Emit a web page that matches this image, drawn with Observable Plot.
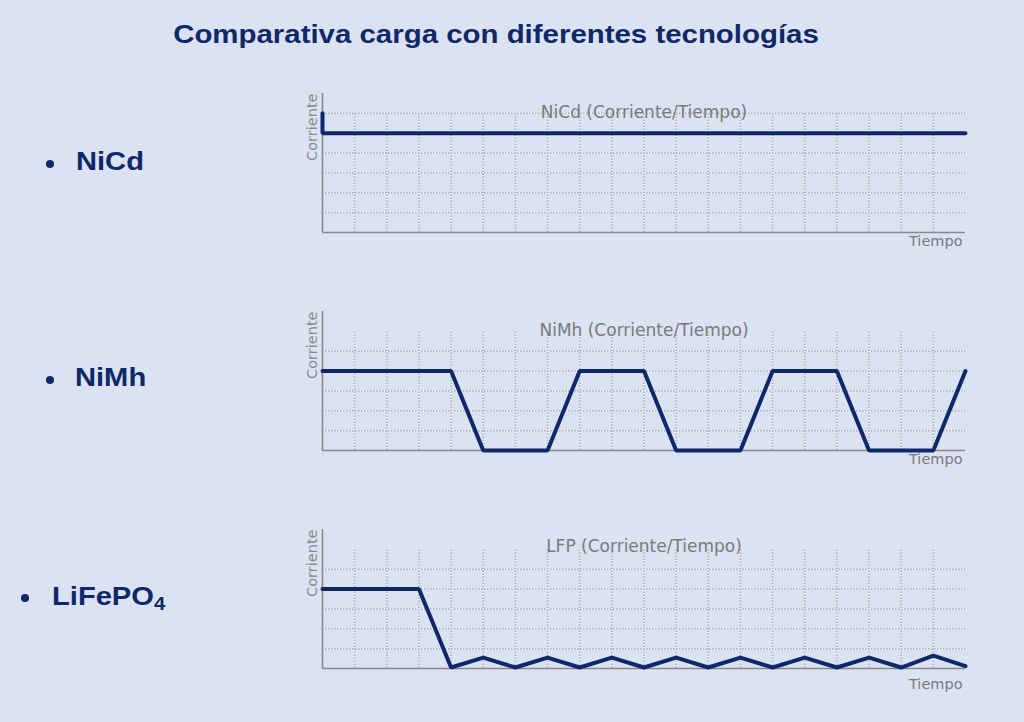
<!DOCTYPE html>
<html>
<head>
<meta charset="utf-8">
<script src="https://cdn.jsdelivr.net/npm/d3@7"></script>
<script src="https://cdn.jsdelivr.net/npm/@observablehq/plot@0.6"></script>
<style>
  html, body { margin: 0; padding: 0; background: #dbe2f2; }
  #page { position: relative; width: 1024px; height: 722px; background: #dbe2f2; overflow: hidden;
          font-family: "Liberation Sans", Arial, sans-serif; }
  .title { position: absolute; left: 0; width: 992px; top: 19px; line-height: 30px; text-align: center;
           font-weight: bold; font-size: 26.5px; color: #0f286a; white-space: nowrap;
           transform: scaleX(1.11); transform-origin: 496px 0; }
  .label { position: absolute; line-height: 30px; font-weight: bold; font-size: 26px; color: #0f286a; white-space: nowrap;
           transform: scaleX(1.12); transform-origin: 0 0; }
  .label sub { font-size: 18px; vertical-align: -5px; line-height: 0; }
  .bullet { position: absolute; width: 8px; height: 8px; border-radius: 50%; background: #0f286a; }
  .chart { position: absolute; left: 290px; }
</style>
</head>
<body>
<div id="page"></div>
<script>
// ---- data ----
const pageTitle = "Comparativa carga con diferentes tecnologías";
const batteryLabels = ["NiCd", "NiMh", "LiFePO"];
const batterySubs = ["", "", "4"];
const chartTitles = ["NiCd (Corriente/Tiempo)", "NiMh (Corriente/Tiempo)", "LFP (Corriente/Tiempo)"];
const xLabel = "Tiempo";
const yLabel = "Corriente";

const timeGrid = [1, 2, 3, 4, 5, 6, 7, 8, 9, 10, 11, 12, 13, 14, 15, 16, 17, 18, 19];
const currentGridNiCd = [1, 2, 3, 4, 5, 6];
const currentGrid = [1, 2, 3, 4, 5];

const nicdTime = [0, 0, 20];
const nicdCurrent = [6, 5, 5];

const nimhTime = [0, 4, 5, 7, 8, 10, 11, 13, 14, 16, 17, 19, 20];
const nimhCurrent = [4, 4, 0, 0, 4, 4, 0, 0, 4, 4, 0, 0, 4];

const lfpTime = [0, 3, 4, 5, 6, 7, 8, 9, 10, 11, 12, 13, 14, 15, 16, 17, 18, 19, 20];
const lfpCurrent = [4, 4, 0.05, 0.55, 0.05, 0.55, 0.05, 0.55, 0.05, 0.55, 0.05, 0.55, 0.05, 0.55, 0.05, 0.55, 0.05, 0.65, 0.12];

// ---- layout ----
const page = document.getElementById("page");
const NAVY = "#0f286a";

const t = document.createElement("div");
t.className = "title";
t.textContent = pageTitle;
page.appendChild(t);

const labelPos = [
  {left: 76, top: 146, bx: 46, by: 160},
  {left: 75, top: 362, bx: 46, by: 376},
  {left: 52, top: 581, bx: 21, by: 594}
];
batteryLabels.forEach((name, k) => {
  const b = document.createElement("div");
  b.className = "bullet";
  b.style.left = labelPos[k].bx + "px";
  b.style.top = labelPos[k].by + "px";
  page.appendChild(b);
  const l = document.createElement("div");
  l.className = "label";
  l.style.left = labelPos[k].left + "px";
  l.style.top = labelPos[k].top + "px";
  l.textContent = name;
  if (batterySubs[k]) {
    const s = document.createElement("sub");
    s.textContent = batterySubs[k];
    l.appendChild(s);
  }
  page.appendChild(l);
});

function chart({time, current, title, hGrid, titleDy, tiempoDy}) {
  const data = time.map((d, k) => ({t: d, i: current[k]}));
  const gridBase = {stroke: "#f4f6fb", strokeWidth: 1.5, strokeDasharray: "1.5,1.5", strokeDashoffset: 1.5};
  const grid = {stroke: "#a9abb2", strokeDasharray: "1.5,1.5", strokeWidth: 1.5};
  const axis = {stroke: "#8a8a8a", strokeWidth: 1.6};
  return Plot.plot({
    width: 695, height: 179,
    marginLeft: 32, marginRight: 20, marginTop: 10, marginBottom: 30,
    x: {domain: [0, 20], axis: null},
    y: {domain: [0, 7], axis: null},
    style: {background: "transparent", overflow: "visible"},
    marks: [
      Plot.ruleY(hGrid, gridBase),
      Plot.ruleY(hGrid, grid),
      Plot.ruleX(timeGrid, {...gridBase, y1: 0, y2: 6}),
      Plot.ruleX(timeGrid, {...grid, y1: 0, y2: 6}),
      Plot.ruleY([0], axis),
      Plot.ruleX([0], {...axis, y1: 0, y2: 7}),
      Plot.line(data, {x: "t", y: "i", stroke: NAVY, strokeWidth: 4, strokeLinejoin: "miter"}),
      Plot.text([title], {frameAnchor: "top", dy: titleDy, fill: "#7a7a7a",
        fontFamily: "DejaVu Sans", fontSize: 17}),
      Plot.text([xLabel], {frameAnchor: "bottom-right", textAnchor: "end", dy: tiempoDy, dx: -3, fill: "#7a7a7a",
        fontFamily: "DejaVu Sans", fontSize: 14.5}),
      Plot.text([yLabel], {frameAnchor: "top-left", rotate: -90, textAnchor: "end", dx: -16, fill: "#8a8a8a",
        fontFamily: "DejaVu Sans", fontSize: 14.5})
    ]
  });
}

const specs = [
  {time: nicdTime, current: nicdCurrent, title: chartTitles[0], hGrid: currentGridNiCd, titleDy: 12, tiempoDy: 13, top: 83},
  {time: nimhTime, current: nimhCurrent, title: chartTitles[1], hGrid: currentGrid, titleDy: 12, tiempoDy: 13, top: 301},
  {time: lfpTime, current: lfpCurrent, title: chartTitles[2], hGrid: currentGrid, titleDy: 10, tiempoDy: 20, top: 519}
];
specs.forEach(s => {
  const c = chart(s);
  c.classList.add("chart");
  c.style.top = s.top + "px";
  page.appendChild(c);
});
</script>
</body>
</html>
